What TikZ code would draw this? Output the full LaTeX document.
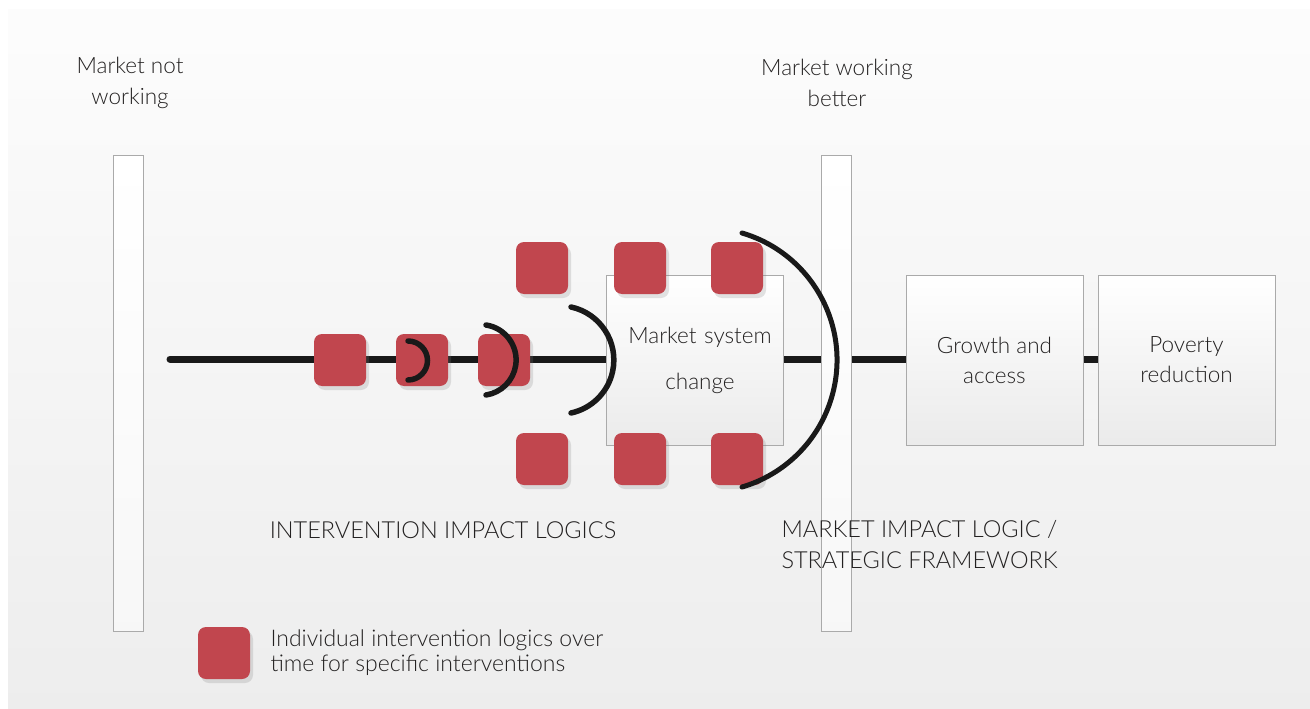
\documentclass[tikz,border=0pt]{standalone}
\usepackage{fontspec}
\setmainfont{Lato Light}
\usetikzlibrary{shadows}
\definecolor{logicred}{RGB}{193,70,78}
\definecolor{framegray}{RGB}{170,170,170}
\definecolor{inkgray}{RGB}{35,33,33}
\pgfdeclarelayer{back}
\pgfdeclarelayer{spine}
\pgfsetlayers{back,spine,main}
\tikzset{
  logic/.style={fill=logicred, rounded corners=8pt, minimum size=52pt, inner sep=0pt,
    drop shadow={shadow xshift=3pt, shadow yshift=-4pt, opacity=.22}},
  bar/.style={draw=framegray, top color=white, bottom color=gray!6,
    minimum width=30pt, minimum height=476pt, inner sep=0pt},
  stage/.style={draw=framegray, top color=white, bottom color=gray!16,
    minimum width=177pt, minimum height=170pt, inner sep=0pt,
    align=center, text=inkgray, font=\fontsize{22.5}{30}\selectfont},
  txt/.style={text=inkgray, font=\fontsize{22.5}{31}\selectfont, align=center},
  wave/.style={line width=5.5pt, line cap=round, draw=black!90},
}
\begin{document}
\begin{tikzpicture}[x=1pt, y=-1pt]
  \useasboundingbox (0,0) rectangle (1310,709);
  % Background
  \begin{pgfonlayer}{back}
    \fill[white] (0,0) rectangle (1310,709);
    \shade[top color=gray!2, bottom color=gray!14] (8,10) rectangle (1310,709);
  \end{pgfonlayer}
  % Bars
  \node[bar] (notworking) at (128,393) {};
  \node[txt] (notlbl) at (130,83) {Market not\\working};
  \node[txt] (betterlbl) at (837,83) {Market working\\better};
  % Stages
  \node[stage, font=\fontsize{22.5}{46}\selectfont, text width=177pt, inner xsep=0pt]
    (mschange) at (695,360.5) {\hspace*{10pt}Market system\\\hspace*{10pt}change};
  \node[stage] (growth) at (994.5,360) {Growth and\\access};
  \node[stage] (poverty) at (1186.5,360) {Poverty\\reduction};
  % Spine
  \coordinate (lstart) at (170,359);
  \begin{pgfonlayer}{spine}
    \draw[line width=7pt, line cap=round, black!90] (lstart) -- (lstart -| poverty.west);
  \end{pgfonlayer}
  \node[bar] (better) at (836,393) {};
  % Intervention logics
  \foreach \n/\x in {1/340, 2/422, 3/504}
    \node[logic] (il\n) at (\x,360) {};
  \foreach \n/\x in {1/542, 2/640, 3/737} {
    \node[logic] (top\n) at (\x,268) {};
    \node[logic] (bot\n) at (\x,459) {};
  }
  % Arcs
  \draw[wave] (408,341) arc[start angle=-90, end angle=90, radius=19.5];
  \draw[wave] (486,325) arc[start angle=-81.4, end angle=81.4, radius=35.4];
  \draw[wave] (571,307) arc[start angle=-77.9, end angle=77.9, radius=54.2];
  \draw[wave, line width=5pt] (742,233) arc[start angle=-73.6, end angle=73.6, radius=132.4];
  % Captions
  \node[txt, font=\fontsize{23.5}{31}\selectfont] (illbl) at (443,530) {INTERVENTION IMPACT LOGICS};
  \node[txt, font=\fontsize{23.5}{31}\selectfont, align=left, anchor=west] (mktlbl) at (778,545)
    {MARKET IMPACT LOGIC /\\STRATEGIC FRAMEWORK};
  % Legend
  \node[logic] (key) at (224,653) {};
  \node[txt, align=left, anchor=west, font=\fontsize{23}{25}\selectfont] (keylbl) at (267,653)
    {Individual intervention logics over\\time for specific interventions};
\end{tikzpicture}
\end{document}
